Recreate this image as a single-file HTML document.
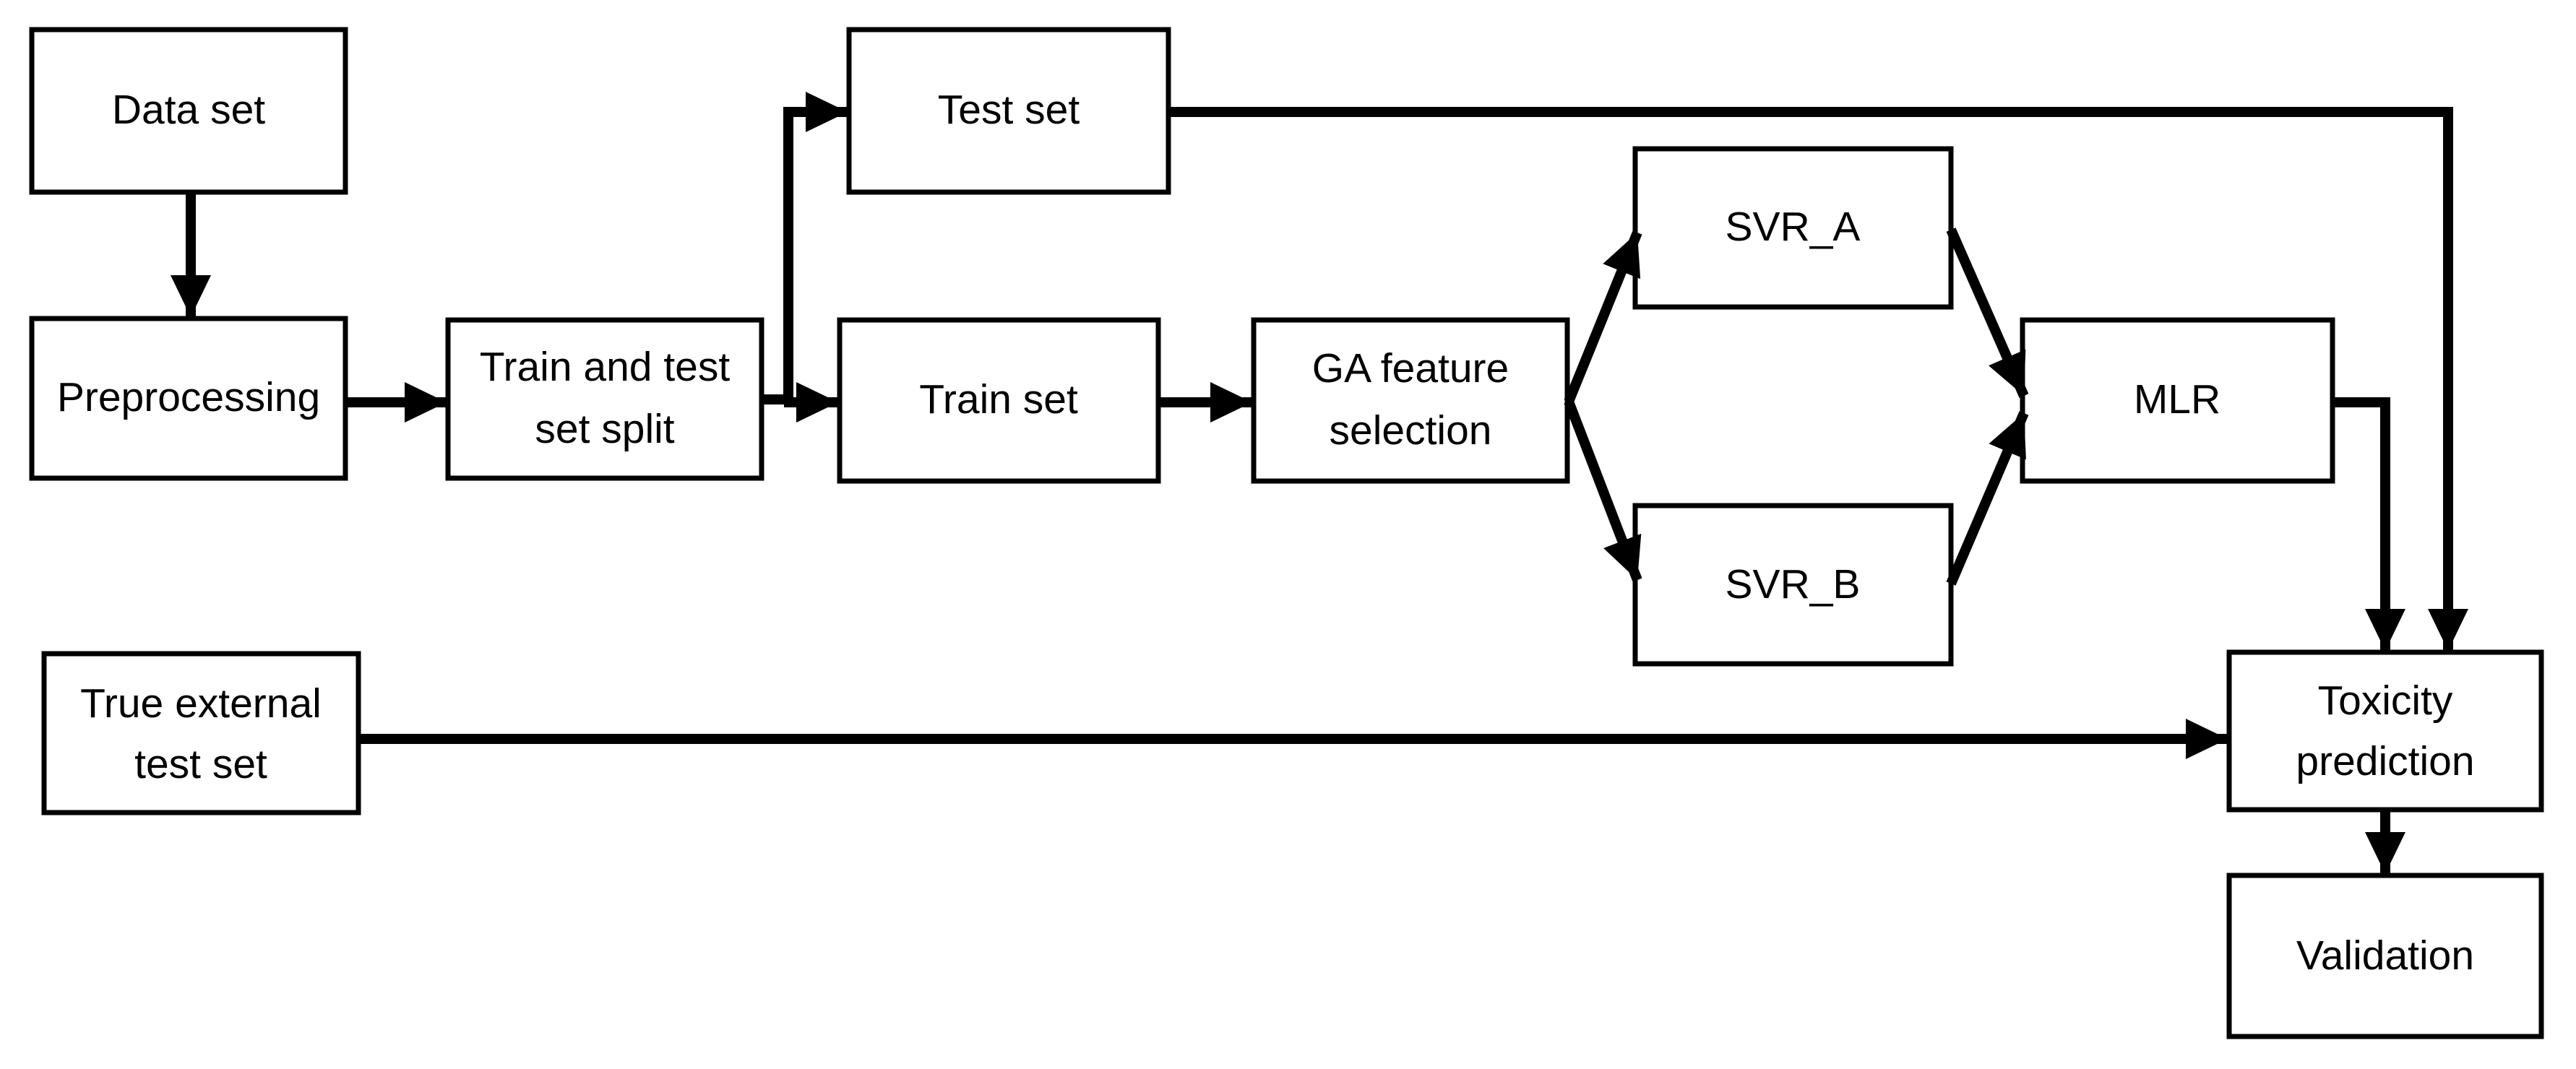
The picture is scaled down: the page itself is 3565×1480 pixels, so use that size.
<!DOCTYPE html>
<html><head><meta charset="utf-8"><style>
html,body{margin:0;padding:0;background:#fff;}
svg{display:block;}
text{font-family:"Liberation Sans",sans-serif;font-size:57px;fill:#000;text-anchor:middle;dominant-baseline:middle;}
</style></head><body>
<svg width="3565" height="1480" viewBox="0 0 3565 1480" xmlns="http://www.w3.org/2000/svg">
<defs>
<marker id="a" markerUnits="userSpaceOnUse" markerWidth="64" markerHeight="64" refX="58" refY="28" orient="auto">
<path d="M0,0 L58,28 L0,56 Z" fill="#000"/>
</marker>
</defs>
<g fill="#fff" stroke="#000" stroke-width="7">
<rect x="44" y="41" width="434" height="225"/>
<rect x="44" y="441" width="434" height="221"/>
<rect x="620" y="443" width="434" height="219"/>
<rect x="1175" y="41" width="442" height="225"/>
<rect x="1162" y="443" width="441" height="223"/>
<rect x="1735" y="443" width="434" height="223"/>
<rect x="2263" y="206" width="437" height="219"/>
<rect x="2263" y="700" width="437" height="219"/>
<rect x="2799" y="443" width="429" height="223"/>
<rect x="61" y="905" width="435" height="220"/>
<rect x="3085" y="903" width="432" height="218"/>
<rect x="3085" y="1212" width="432" height="223"/>
</g>
<g stroke="#000" stroke-width="14" fill="none">
<line x1="264" y1="266" x2="264" y2="439" marker-end="url(#a)"/>
<line x1="478" y1="557" x2="618" y2="557" marker-end="url(#a)"/>
<polyline points="1054,553 1091,553 1091,155 1173,155" marker-end="url(#a)"/>
<line x1="1085" y1="557" x2="1160" y2="557" marker-end="url(#a)"/>
<line x1="1603" y1="557" x2="1733" y2="557" marker-end="url(#a)"/>
<line x1="2171" y1="556" x2="2266" y2="322" marker-end="url(#a)"/>
<line x1="2171" y1="556" x2="2266" y2="803" marker-end="url(#a)"/>
<line x1="2700" y1="318" x2="2801" y2="548" marker-end="url(#a)"/>
<line x1="2700" y1="808" x2="2801" y2="572" marker-end="url(#a)"/>
<polyline points="3228,557 3301,557 3301,901" marker-end="url(#a)"/>
<polyline points="1617,155 3388,155 3388,901" marker-end="url(#a)"/>
<line x1="496" y1="1023" x2="3083" y2="1023" marker-end="url(#a)"/>
<line x1="3301" y1="1121" x2="3301" y2="1210" marker-end="url(#a)"/>
</g>
<text x="261" y="156">Data set</text>
<text x="261" y="554">Preprocessing</text>
<text x="837" y="512">Train and test</text>
<text x="837" y="598">set split</text>
<text x="1396" y="156">Test set</text>
<text x="1382" y="557">Train set</text>
<text x="1952" y="514">GA feature</text>
<text x="1952" y="600">selection</text>
<text x="2481" y="318">SVR_A</text>
<text x="2481" y="813">SVR_B</text>
<text x="3013" y="557">MLR</text>
<text x="278" y="978">True external</text>
<text x="278" y="1062">test set</text>
<text x="3301" y="974">Toxicity</text>
<text x="3301" y="1058">prediction</text>
<text x="3301" y="1327">Validation</text>
</svg>
</body></html>
